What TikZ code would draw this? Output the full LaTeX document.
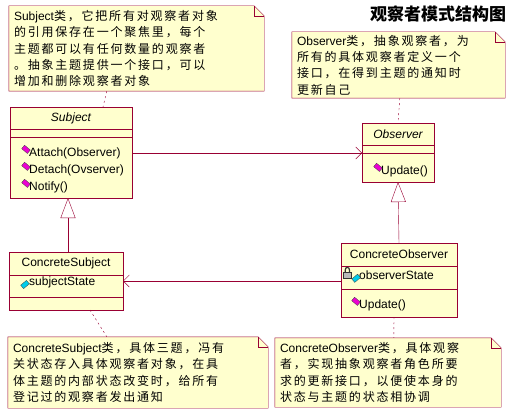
\documentclass[tikz,border=0pt]{standalone}
\usepackage{fontspec}
\setmainfont{Liberation Sans}
\newfontfamily\cjkfont[LetterSpace=15]{Noto Sans CJK SC}
\newfontfamily\cjkhead{Noto Sans CJK SC}
\usetikzlibrary{arrows.meta,positioning,calc,backgrounds}

\definecolor{umlline}{RGB}{153,0,51}
\definecolor{umlfill}{RGB}{255,255,206}
\definecolor{opcolor}{RGB}{235,0,210}
\definecolor{attrcolor}{RGB}{0,205,235}

\newcommand{\zh}[1]{{\cjkfont #1}}
% note outline with folded corner, drawn round a named node
\newcommand{\foldnote}[1]{%
  \draw[umlline,fill=umlfill] (#1.north west) -- ($(#1.north east)+(-10,0)$)
    -- ($(#1.north east)+(0,10)$) -- (#1.south east) -- (#1.south west) -- cycle;
  \draw[umlline] ($(#1.north east)+(-10,0)$) -- ($(#1.north east)+(-10,10)$)
    -- ($(#1.north east)+(0,10)$);}

\begin{document}
\begin{tikzpicture}[x=1pt,y=-1pt,
  compart/.style={draw=umlline,fill=umlfill,inner sep=0pt,outer sep=0pt,
    font=\fontsize{12}{14}\selectfont},
  member/.style={anchor=west,inner sep=0pt,font=\fontsize{12}{14}\selectfont},
  iconbox/.style={rectangle,draw=black!75,line width=0.3pt,
    minimum width=7.5pt,minimum height=4.5pt,inner sep=0pt},
  opicon/.style={iconbox,fill=opcolor,rotate=-40},
  attricon/.style={iconbox,fill=attrcolor,rotate=40},
  notetext/.style={inner xsep=5pt,inner ysep=0pt,align=left,
    font=\fontsize{12}{16.3}\selectfont},
  assoc/.style={umlline,-{Straight Barb[length=6pt,width=12pt]}},
  inherit/.style={umlline,-{Triangle[open,length=20pt,width=15pt,fill=white]}},
  notelink/.style={umlline,dash pattern=on 2pt off 3pt}]
\useasboundingbox (0,0) rectangle (513,417);

% Title
\node[font=\fontsize{17}{19}\selectfont\cjkhead\bfseries] (title) at (438,14) {观察者模式结构图};

% Subject
\node[compart,minimum width=122pt,minimum height=22pt,font=\fontsize{12}{14}\selectfont\itshape] (subjname) at (71,118) {Subject};
\node[compart,minimum width=122pt,minimum height=8pt,below=0pt of subjname] (subjattr) {};
\node[compart,minimum width=122pt,minimum height=61pt,below=0pt of subjattr] (subjops) {};
\node[member] (attach) at ($(subjops.north west)+(19,16)$) {Attach(Observer)};
\node[member] (detach) at ($(subjops.north west)+(19,33)$) {Detach(Ovserver)};
\node[member] (notify) at ($(subjops.north west)+(19,50)$) {Notify()};
\node[opicon,left=1pt of attach,yshift=1.5pt] (attachicon) {};
\node[opicon,left=1pt of detach,yshift=1.5pt] (detachicon) {};
\node[opicon,left=1pt of notify,yshift=1.5pt] (notifyicon) {};

% Observer
\node[compart,minimum width=72pt,minimum height=22pt,font=\fontsize{12}{14}\selectfont\itshape] (obsname) at (398,134) {Observer};
\node[compart,minimum width=72pt,minimum height=8pt,below=0pt of obsname] (obsattr) {};
\node[compart,minimum width=72pt,minimum height=29pt,below=0pt of obsattr] (obsops) {};
\node[member] (obsupdate) at ($(obsops.north west)+(19,18)$) {Update()};
\node[opicon,left=1pt of obsupdate,yshift=1.5pt] (obsupdateicon) {};

% ConcreteSubject
\node[compart,minimum width=114pt,minimum height=23pt] (csubname) at (66,263.5) {ConcreteSubject};
\node[compart,minimum width=114pt,minimum height=22pt,below=0pt of csubname] (csubattr) {};
\node[compart,minimum width=114pt,minimum height=13pt,below=0pt of csubattr] (csubops) {};
\node[member] (substate) at ($(csubattr.north west)+(20,7)$) {subjectState};
\node[attricon,left=1pt of substate] (substateicon) {};

% ConcreteObserver
\node[compart,minimum width=116pt,minimum height=23pt] (cobsname) at (399,254.5) {ConcreteObserver};
\node[compart,minimum width=116pt,minimum height=23pt,below=0pt of cobsname] (cobsattr) {};
\node[compart,minimum width=116pt,minimum height=28pt,below=0pt of cobsattr] (cobsops) {};
\node[member] (obsstate) at ($(cobsattr.north west)+(18,9)$) {observerState};
\node[attricon,left=0.5pt of obsstate,yshift=-1pt] (obsstateicon) {};
\node[rectangle,draw=black!80,fill=gray!55,line width=0.3pt,minimum width=8pt,minimum height=6pt,inner sep=0pt] (obsstatelock) at ($(cobsattr.north west)+(6.5,9)$) {};
\draw[black!80,line width=1.2pt] ($(obsstatelock.north west)+(1.8,0)$) -- ++(0,-1.5)
  .. controls ++(0,-4) and ++(0,-4) .. ++(4.4,0) -- ++(0,1.5);
\node[member] (cobsupdate) at ($(cobsops.north west)+(18,16)$) {Update()};
\node[opicon,left=1pt of cobsupdate,yshift=1.5pt] (cobsupdateicon) {};

% Notes
\node[notetext,minimum width=255pt,minimum height=85pt,text width=245pt] (subjnote) at (136.5,48.5)
  {Subject\zh{类，它把所有对观察者对象}\\
   \zh{的引用保存在一个聚焦里，每个}\\
   \zh{主题都可以有任何数量的观察者}\\
   \zh{。抽象主题提供一个接口，可以}\\
   \zh{增加和删除观察者对象}};
\node[notetext,minimum width=213pt,minimum height=66pt,text width=203pt] (obsnote) at (398.5,65)
  {Observer\zh{类，抽象观察者，为}\\
   \zh{所有的具体观察者定义一个}\\
   \zh{接口，在得到主题的通知时}\\
   \zh{更新自己}};
\node[notetext,minimum width=260pt,minimum height=71pt,text width=250pt] (csubnote) at (138,372.5)
  {ConcreteSubject\zh{类，具体三题，冯有}\\
   \zh{关状态存入具体观察者对象，在具}\\
   \zh{体主题的内部状态改变时，给所有}\\
   \zh{登记过的观察者发出通知}};
\node[notetext,minimum width=226pt,minimum height=69pt,text width=216pt] (cobsnote) at (388,372.5)
  {ConcreteObserver\zh{类，具体观察}\\
   \zh{者，实现抽象观察者角色所要}\\
   \zh{求的更新接口，以便使本身的}\\
   \zh{状态与主题的状态相协调}};
\begin{scope}[on background layer]
\foldnote{subjnote}
\foldnote{obsnote}
\foldnote{csubnote}
\foldnote{cobsnote}
\end{scope}

% Note links
\draw[notelink] ($(subjnote.south west)+(98,0)$) -- ($(subjname.north west)+(93,0)$);
\draw[notelink] ($(obsnote.south west)+(108,0)$) -- (obsname.north);
\draw[notelink] ($(csubops.south west)+(81,0)$) -- ($(csubnote.north west)+(99,0)$);
\draw[notelink] ($(cobsops.south west)+(53,0)$) -- ($(cobsnote.north west)+(119,0)$);

% Associations
\draw[assoc] (subjops.east |- obsops.north west) -- (obsops.north west);
\coordinate (cobsend) at ($(cobsattr.west)+(0,3.5)$);
\draw[assoc] (cobsend) -- (cobsend -| csubattr.east);

% Generalizations
\coordinate (subjgen) at (68,0);
\draw[inherit] (csubname.north -| subjgen) -- (subjops.south -| subjgen);
\draw[inherit] (cobsname.north) -- (obsops.south);
\end{tikzpicture}
\end{document}
